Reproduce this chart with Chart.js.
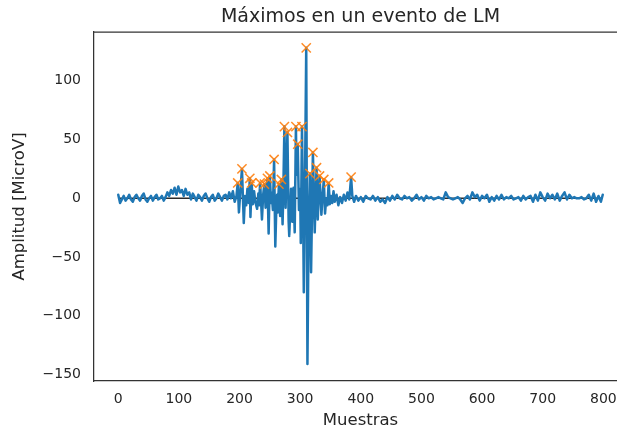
<!DOCTYPE html>
<html lang="es">
<head>
<meta charset="utf-8">
<title>Máximos en un evento de LM</title>
<script src="https://cdn.jsdelivr.net/npm/chart.js@4.4.1/dist/chart.umd.min.js"></script>
<style>
  html, body { margin: 0; padding: 0; background: #fff; }
  #marco { width: 617px; height: 432px; overflow: hidden; }
  #grafico { display: block; }
</style>
</head>
<body>
<div id="marco"><canvas id="grafico" width="640" height="432"></canvas></div>
<script>
// Señal del evento (muestra -> amplitud en microvoltios)
const muestras = [
  0, 3, 6, 9, 12, 15, 18, 21, 24, 27, 30, 33, 36, 39, 42, 45, 48, 51, 54, 57,
  60, 63, 66, 69, 72, 75, 78, 81, 84, 87, 90, 93, 96, 99, 102, 105, 108, 111, 114, 117,
  120, 123, 126, 129, 132, 135, 138, 141, 144, 147, 150, 153, 156, 159, 162, 165, 168, 171, 174, 177,
  180, 183, 186, 189,
  192, 195, 197, 199, 201, 204, 207, 209, 211, 213, 215, 217, 218, 220, 222, 224, 226, 229, 231, 232,
  234, 237, 239, 241, 243, 244, 246, 248, 250, 252, 253, 255, 257, 259, 261, 262, 263, 265, 267, 269,
  271, 272, 274, 276, 279, 281, 282, 285, 287, 289, 291, 293, 294, 296, 298, 300, 301, 303, 305, 306,
  308, 310, 312, 314, 316, 318, 321, 324, 325, 327, 329, 330, 332, 335, 337, 339, 341, 343, 345, 347,
  349, 351, 353, 355, 357, 360, 363, 366, 369, 372, 375, 378, 381, 384, 386, 389,
  392, 396, 400, 404, 408, 412, 416, 420, 424, 428, 432, 436, 440, 444, 448, 452, 456, 460, 464, 468,
  472, 476, 480, 484, 488, 492, 496, 500, 504, 508, 512, 516, 520, 524, 528, 532, 536, 540, 544, 548,
  552, 556, 560, 564, 568, 572, 576, 580, 584, 588, 592, 596, 600, 604, 608, 612, 616, 620, 624, 628,
  632, 636, 640, 644, 648, 652, 656, 660, 664, 668, 672, 676, 680, 684, 688, 692, 696, 700, 704, 708,
  712, 716, 720, 724, 728, 732, 736, 740, 744, 748, 752, 756, 760, 764, 768, 772, 776, 780, 784, 788,
  792, 796, 799
];
const amplitud = [
  3, -4, -1, 2, -2, 0, 3, -1, -3, 1, 3, 0, -2, 2, 4, -1, -3, 0, 2, -2,
  1, 3, -1, 0, 2, -2, 1, 5, 2, 7, 4, 9, 3, 10, 5, 7, 2, 8, 3, 5,
  -1, 4, 1, -2, 3, 1, -2, 2, 4, 0, -3, 1, 3, -2, 0, 4, 1, -2, 2, 3,
  -1, 5, 0, 6,
  -3, 2, 13, -12, 3, 25, -21, 2, -6, 8, -4, 17, -16, 13, -5, 6, -3, -9, 4, -6,
  13, -18, 3, 12, -8, 2, 17, -30, 19, -4, 5, -10, 33, -41, -2, 3, -12, 12, -15, 16,
  -22, 0, 61, -8, 56, -20, -32, 8, -20, 9, -29, 61, 20, 46, -10, 8, -38, 61, -20, -80,
  15, 128, -141, -20, 21, -63, 39, -29, -10, 26, -18, -5, 19, -14, 2, 16, -13, 0, -6, 13,
  -5, 2, -4, 6, -3, 3, -6, 1, -4, 3, -2, 5, -1, 18, 2, -3,
  2, -2, 1, -3, 2, 0, -1, 2, -2, 1, -3, -1, -4, 1, -2, 2, -1, 3, 0, -1,
  2, 0, 1, -2, 0, 3, -1, 1, -2, 2, 0, 1, -1, 0, 1, 0, -1, 5, 1, 0,
  -1, 0, 1, -1, -4, 0, 2, -1, 5, 1, 3, -2, 2, 0, 3, -3, 1, -2, 2, -1,
  3, -1, 1, 0, 2, -1, 0, 1, -2, 2, -1, 1, 2, -3, 3, -2, 5, 1, -2, 4,
  0, 3, -1, 4, -2, 2, 5, -1, 3, 0, 1, 0, 0, 1, -1, 0, 3, -2, 4, -3,
  2, -3, 3
];
// Muestras donde se detectaron máximos
const picos = [197, 204, 217, 220, 234, 241, 246, 250, 257, 265, 269, 274,
  279, 293, 296, 303, 310, 316, 321, 327, 332, 339, 347, 384];
// Línea de referencia en cero
const baseX = [0, 799];
const baseY = [0, 0];

const ticksX = [0, 100, 200, 300, 400, 500, 600, 700, 800];
const ticksY = [-150, -100, -50, 0, 50, 100];

const TEXTO = "#262626";
const EJE = "#333333";

const senal = muestras.map((m, i) => ({ x: m, y: amplitud[i] }));
const maximos = picos.map((p) => ({ x: p, y: amplitud[muestras.indexOf(p)] }));
const base = baseX.map((m, i) => ({ x: m, y: baseY[i] }));

function etiqueta(v) {
  return v < 0 ? "\u2212" + Math.abs(v) : String(v);
}

// marco superior del área de trazado
const marcoSuperior = {
  id: "marcoSuperior",
  afterDatasetsDraw(chart) {
    const { ctx, chartArea } = chart;
    ctx.save();
    ctx.strokeStyle = EJE;
    ctx.lineWidth = 1.25;
    ctx.beginPath();
    ctx.moveTo(chartArea.left, chartArea.top);
    ctx.lineTo(chartArea.right, chartArea.top);
    ctx.stroke();
    ctx.restore();
  },
};

Chart.defaults.font.family = "'DejaVu Sans', sans-serif";
Chart.defaults.color = TEXTO;

const ctx = document.getElementById("grafico").getContext("2d");
new Chart(ctx, {
  type: "line",
  data: {
    datasets: [
      {
        label: "máximos",
        data: maximos,
        showLine: false,
        pointStyle: "crossRot",
        pointRadius: 6.5,
        pointBorderWidth: 1.5,
        pointBorderColor: "rgba(255, 127, 14, 0.9)",
        pointBackgroundColor: "rgba(255, 127, 14, 0.9)",
        order: 0,
      },
      {
        label: "señal",
        data: senal,
        borderColor: "#1f77b4",
        borderWidth: 2.5,
        borderJoinStyle: "round",
        borderCapStyle: "round",
        pointRadius: 0,
        tension: 0,
        fill: false,
        order: 1,
      },
      {
        label: "base",
        data: base,
        borderColor: "#2b2b2b",
        borderWidth: 1.6,
        pointRadius: 0,
        fill: false,
        order: 2,
      },
    ],
  },
  options: {
    responsive: false,
    animation: false,
    events: [],
    layout: { padding: { left: 0, top: 0, right: 13, bottom: 0 } },
    plugins: {
      legend: { display: false },
      tooltip: { enabled: false },
      title: {
        display: true,
        text: "Máximos en un evento de LM",
        fullSize: false,
        color: TEXTO,
        font: { size: 19, weight: "normal" },
        padding: { top: 6, bottom: 3.2 },
      },
    },
    scales: {
      x: {
        type: "linear",
        min: -40,
        max: 839,
        grid: { display: false, drawTicks: false },
        border: { display: true, color: EJE, width: 1.25 },
        afterBuildTicks: (s) => {
          s.ticks = ticksX.map((v) => ({ value: v }));
        },
        afterFit: (s) => {
          s.height = 51;
        },
        ticks: {
          font: { size: 14 },
          color: TEXTO,
          padding: 10,
          maxRotation: 0,
          callback: etiqueta,
        },
        title: {
          display: true,
          text: "Muestras",
          color: TEXTO,
          font: { size: 16.5 },
          padding: { top: 0, bottom: 1 },
        },
      },
      y: {
        type: "linear",
        min: -155.5,
        max: 141.5,
        grid: { display: false, drawTicks: false },
        border: { display: true, color: EJE, width: 1.25 },
        afterBuildTicks: (s) => {
          s.ticks = ticksY.map((v) => ({ value: v }));
        },
        afterFit: (s) => {
          s.width = 94;
        },
        ticks: {
          font: { size: 14 },
          color: TEXTO,
          padding: 13,
          callback: etiqueta,
        },
        title: {
          display: true,
          text: "Amplitud [MicroV]",
          color: TEXTO,
          font: { size: 16.5 },
          padding: { top: 10, bottom: 0 },
        },
      },
    },
  },
  plugins: [marcoSuperior],
});
</script>
</body>
</html>
